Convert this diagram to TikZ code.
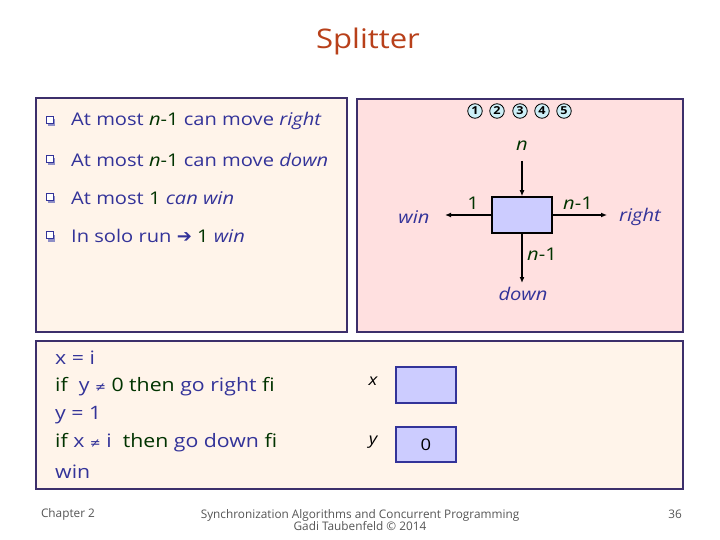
\documentclass[tikz,border=0pt]{standalone}
\usepackage{fontspec}
\setmainfont[FakeStretch=1.15]{Open Sans}
\newfontfamily\dv{DejaVu Sans}
\newfontfamily\footf{Open Sans}
\usetikzlibrary{arrows.meta}
\definecolor{navy}{HTML}{333399}
\definecolor{dgreen}{HTML}{003300}
\definecolor{rust}{HTML}{B8401A}
\definecolor{cream}{HTML}{FFF4EA}
\definecolor{pinkbg}{HTML}{FFE0E0}
\definecolor{framec}{HTML}{3C2F6B}
\definecolor{lav}{HTML}{CCCCFF}
\definecolor{cyanc}{HTML}{CDEFF7}
\definecolor{footc}{HTML}{555555}
\newcommand{\gr}[1]{\textcolor{dgreen}{#1}}
\begin{document}
\begin{tikzpicture}[x=1pt,y=-1pt,
  panel/.style={draw=framec,line width=1.2pt},
  bul/.style={draw=navy,fill=white,line width=0.8pt,minimum size=7pt,inner sep=0pt},
  txt/.style={anchor=west,inner sep=0pt,text=navy,font=\fontsize{17.5}{21}\selectfont},
  ctxt/.style={anchor=west,inner sep=0pt,text=navy,font=\fontsize{18.5}{22}\selectfont},
  lab/.style={inner sep=0pt,text=navy,font=\fontsize{17.5}{21}\selectfont\itshape},
  glab/.style={inner sep=0pt,text=dgreen,font=\fontsize{17.5}{21}\selectfont},
  circ/.style={circle,draw=black,fill=cyanc,line width=0.8pt,minimum size=14.5pt,inner sep=0pt,font=\fontsize{11}{12}\selectfont\bfseries},
  arr/.style={-{Latex[length=6pt,width=5pt]},line width=1.5pt},
  reg/.style={draw=navy,fill=lav,line width=1.2pt,minimum width=60pt,minimum height=36pt,inner sep=0pt},
  foot/.style={inner sep=0pt,text=footc,font=\footf\fontsize{11.8}{13}\selectfont}]
\useasboundingbox (0,0) rectangle (720,540);
\fill[white] (0,0) rectangle (720,540);
% title
\node[inner sep=0pt,text=rust,font=\fontsize{27}{32}\selectfont] (title) at (368,41) {Splitter};
% panels
\draw[panel,fill=cream] (36,98) rectangle (347,332);
\draw[panel,fill=pinkbg] (357,99) rectangle (683,332);
\draw[panel,fill=cream] (36,341) rectangle (683,489);
% bullets
\foreach \yy/\nm in {121/b1,160/b2,198/b3,236/b4}{
  \fill[navy!55] (47.5,\yy-1.5) rectangle ++(7,7);
  \node[bul] (\nm) at (50,\yy-1) {};
}
\node[txt] (t1) at (71,121) {At most \gr{\textit{n}-1} can move \textit{right}};
\node[txt] (t2) at (71,160) {At most \gr{\textit{n}-1} can move \textit{down}};
\node[txt] (t3) at (71,198) {At most \gr{1} \textit{can win}};
\node[txt] (t4) at (71,236) {In solo run {\dv\fontsize{18}{20}\selectfont ➔} \gr{1} \textit{win}};
% circled numbers
\node[circ] (c1) at (475,111) {1};
\node[circ] (c2) at (497,111) {2};
\node[circ] (c3) at (520,111) {3};
\node[circ] (c4) at (542,111) {4};
\node[circ] (c5) at (564,111) {5};
% splitter
\node[reg,draw=black,line width=1.5pt] (sp) at (522,215) {};
\coordinate (nin) at (522,161);
\coordinate (winend) at (445,215);
\coordinate (rightend) at (607,215);
\coordinate (downend) at (522,283);
\draw[arr] (nin) -- (sp.north);
\draw[arr] (sp.west) -- (winend);
\draw[arr] (sp.east) -- (rightend);
\draw[arr] (sp.south) -- (downend);
\node[glab] (ln) at (522,146) {\textit{n}};
\node[glab] (l1) at (473,203) {1};
\node[glab] (lr) at (578,203) {\textit{n}-1};
\node[glab] (ld) at (542,254) {\textit{n}-1};
\node[lab] (lwin) at (414,217) {win};
\node[lab] (lright) at (640,217) {right};
\node[lab] (ldown) at (523,294) {down};
% code
\node[ctxt] (k1) at (55,358) {x = i};
\node[ctxt] (k2) at (55,387) {\gr{if}\ \ y {\dv\fontsize{13}{15}\selectfont ≠} \gr{0 then} go right \gr{fi}};
\node[ctxt] (k3) at (55,415) {y = 1};
\node[ctxt] (k4) at (55,443) {\gr{if} x {\dv\fontsize{13}{15}\selectfont ≠} i \ \gr{then} go down \gr{fi}};
\node[ctxt] (k5) at (55,472) {win};
\node[inner sep=0pt,font=\fontsize{16}{18}\selectfont\itshape] (vx) at (373,381) {x};
\node[inner sep=0pt,font=\fontsize{16}{18}\selectfont\itshape] (vy) at (373,442) {y};
\node[reg,minimum height=36pt] (bx) at (426,385) {};
\node[reg,minimum height=35pt,font=\fontsize{16}{18}\selectfont] (by) at (426,444.5) {0};
% footer
\node[foot] (f1) at (68,514) {Chapter 2};
\node[foot,align=center] (f2) at (360,520) {Synchronization Algorithms and Concurrent Programming\\[-1.5pt]Gadi Taubenfeld © 2014};
\node[foot] (f3) at (675,514) {36};
\end{tikzpicture}
\end{document}
